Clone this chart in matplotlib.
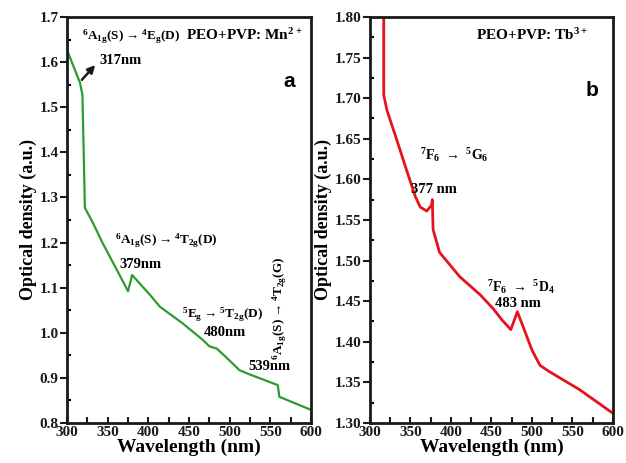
"""Optical density spectra of PEO+PVP films doped with Mn2+ (a) and Tb3+ (b)."""

import matplotlib

matplotlib.use("Agg")
import matplotlib.pyplot as plt
from matplotlib.ticker import MultipleLocator

plt.rcParams["font.family"] = "Liberation Serif"
plt.rcParams["font.weight"] = "bold"
plt.rcParams["mathtext.default"] = "regular"

GREEN = "#2f9a2f"
RED = "#e5131b"
INK = "#1a1a1a"

# panel a: PEO+PVP: Mn2+
mn_nm = [300, 316, 319, 322, 332, 344, 357, 369, 375, 380, 389, 402, 414, 442,
         467, 475, 484, 496, 512, 524, 559, 561, 600]
mn_od = [1.627, 1.554, 1.527, 1.277, 1.243, 1.198, 1.154, 1.113, 1.092, 1.128,
         1.110, 1.084, 1.058, 1.021, 0.984, 0.970, 0.965, 0.945, 0.917, 0.908,
         0.884, 0.858, 0.829]

# panel b: PEO+PVP: Tb3+
tb_nm = [317, 317, 321, 333, 345, 356, 362, 370, 376, 377, 378, 386, 411, 436,
         452, 463, 474, 482, 489, 500, 510, 522, 559, 600]
tb_od = [1.85, 1.704, 1.685, 1.649, 1.612, 1.579, 1.566, 1.561, 1.568, 1.575,
         1.538, 1.510, 1.480, 1.458, 1.441, 1.427, 1.415, 1.437, 1.419, 1.390,
         1.371, 1.363, 1.341, 1.312]


def style(ax, ymin, ymax, ymaj, ymin_step, yfmt):
    ax.set_xlim(300, 600)
    ax.set_ylim(ymin, ymax)
    ax.xaxis.set_major_locator(MultipleLocator(50))
    ax.xaxis.set_minor_locator(MultipleLocator(25))
    ax.yaxis.set_major_locator(MultipleLocator(ymaj))
    ax.yaxis.set_minor_locator(MultipleLocator(ymin_step))
    ax.yaxis.set_major_formatter(yfmt)
    for s in ax.spines.values():
        s.set_linewidth(2)
        s.set_color(INK)
    ax.tick_params(axis="x", which="both", direction="in", length=4, width=1.5,
                   labelsize=11, pad=2, colors=INK)
    ax.tick_params(axis="y", which="major", direction="out", length=5, width=1.5,
                   labelsize=11, pad=1, colors=INK)
    ax.tick_params(axis="y", which="minor", direction="in", length=3, width=1.5)
    ax.set_xlabel("Wavelength (nm)", fontsize=14, fontweight="bold", labelpad=0)
    ax.set_ylabel("Optical density (a.u.)", fontsize=13, fontweight="bold", labelpad=2)


fig = plt.figure(figsize=(6.26, 4.63), dpi=100, facecolor="white")
ax1 = fig.add_axes([0.107, 0.0864, 0.390, 0.877])
ax2 = fig.add_axes([0.591, 0.0864, 0.388, 0.877])

ax1.plot(mn_nm, mn_od, color=GREEN, lw=1.6)
style(ax1, 0.8, 1.7, 0.1, 0.05, "{x:.1f}")

fs = 9.5
nm_fs = 10.5
ax1.text(318, 1.649, r"$^{6}$A$_{1g}$(S)$\rightarrow$$^{4}$E$_{g}$(D)", fontsize=fs)
ax1.text(446, 1.649, r"PEO+PVP: Mn$^{2+}$", fontsize=11)
ax1.text(340, 1.596, "317nm", fontsize=nm_fs)
ax1.annotate("", xy=(337, 1.598), xytext=(316, 1.556),
             arrowprops=dict(arrowstyle="-|>", color=INK, lw=1.8, mutation_scale=11))
ax1.text(573, 1.556, "a", fontsize=15, fontweight="bold", family="Liberation Sans",
         ha="center", va="center")
ax1.text(359, 1.198, r"$^{6}$A$_{1g}$(S)$\rightarrow$$^{4}$T$_{2g}$(D)", fontsize=fs)
ax1.text(364, 1.144, "379nm", fontsize=nm_fs)
ax1.text(441, 1.034, r"$^{5}$E$_{g}$$\rightarrow$$^{5}$T$_{2g}$(D)", fontsize=fs)
ax1.text(468, 0.993, "480nm", fontsize=nm_fs)
ax1.text(523, 0.918, "539nm", fontsize=nm_fs)
ax1.text(562, 0.94, r"$^{6}$A$_{1g}$(S)$\rightarrow$$^{4}$T$_{2g}$(G)", fontsize=fs,
         rotation=90, ha="center", va="bottom")

ax2.plot(tb_nm, tb_od, color=RED, lw=2)
style(ax2, 1.30, 1.80, 0.05, 0.025, "{x:.2f}")

ax2.text(431, 1.772, r"PEO+PVP: Tb$^{3+}$", fontsize=11)
ax2.text(574, 1.71, "b", fontsize=15, fontweight="bold", family="Liberation Sans",
         ha="center", va="center")
ax2.text(362, 1.624, r"$^{7}$F$_{6}$ $\rightarrow$ $^{5}$G$_{6}$", fontsize=10)
ax2.text(351, 1.583, "377 nm", fontsize=nm_fs)
ax2.text(444, 1.462, r"$^{7}$F$_{6}$ $\rightarrow$ $^{5}$D$_{4}$", fontsize=10)
ax2.text(454, 1.443, "483 nm", fontsize=nm_fs)

fig.savefig("out.png", dpi=100, facecolor="white")
